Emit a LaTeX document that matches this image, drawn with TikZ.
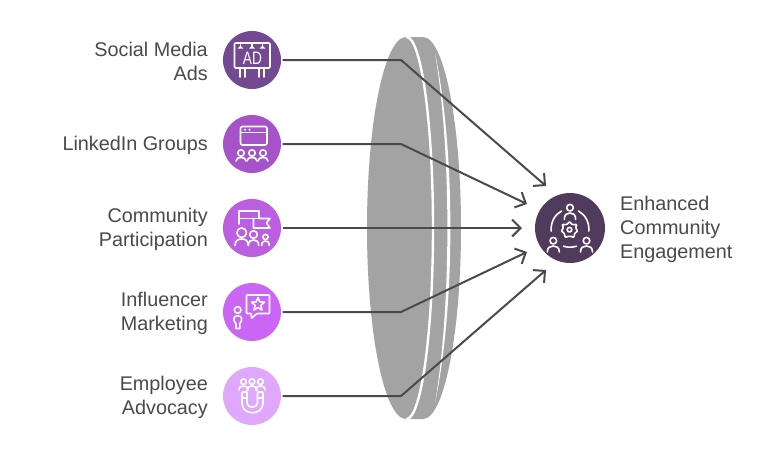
\documentclass[tikz,border=0pt]{standalone}
\usepackage{fontspec}
\setmainfont{Liberation Sans}
\usetikzlibrary{arrows.meta}
\definecolor{inkc}{HTML}{4A4A4A}
\definecolor{lensc}{HTML}{A3A3A3}
\definecolor{ca}{HTML}{734A92}
\definecolor{cb}{HTML}{A653C9}
\definecolor{cc}{HTML}{BC5EE0}
\definecolor{cd}{HTML}{C966F5}
\definecolor{ce}{HTML}{E0A8FC}
\definecolor{ct}{HTML}{503B5C}
\tikzset{
  x=1pt,y=-1pt,
  disc/.style={circle,draw=none,minimum size=58pt,inner sep=0pt,outer sep=1.5pt},
  lbl/.style={text=inkc,font=\fontsize{19.8}{24}\selectfont,inner sep=0pt,anchor=east,align=right},
  lblr/.style={text=inkc,font=\fontsize{19.8}{24}\selectfont,inner sep=0pt,anchor=west,align=left},
  conn/.style={draw=inkc,line width=2pt,miter limit=4},
  arr/.style={conn,-{Straight Barb[length=8.5pt,width=17pt,line width=2pt]}},
  ico/.style={draw=white,line width=1.6pt,line cap=round,line join=round}
}
% head and shoulders: x, head y, head radius, half width, body top, body bottom
\newcommand{\iconperson}[6]{%
  \draw[ico] (#1,#2) circle[radius=#3];
  \draw[ico] ({#1-#4},#6) .. controls ({#1-#4},{#6-0.8*(#6-#5)}) and ({#1-0.5*#4},#5) .. (#1,#5)
     .. controls ({#1+0.5*#4},#5) and ({#1+#4},{#6-0.8*(#6-#5)}) .. ({#1+#4},#6);
}
\begin{document}
\begin{tikzpicture}
\useasboundingbox (0,0) rectangle (764,451);
\fill[white] (0,0) rectangle (764,451);

% lens
\fill[lensc] (406,37) arc[start angle=-90,end angle=-270,x radius=39,y radius=191]
   -- (423,419) arc[start angle=90,end angle=-90,x radius=38,y radius=191] -- cycle;
\draw[white,line width=2.4pt] (406.5,37) arc[start angle=-90,end angle=90,x radius=26.5,y radius=191];
\fill[white] (435,53) .. controls (455.5,150) and (455.5,306) .. (435,403)
   .. controls (451.5,306) and (451.5,150) .. (435,53) -- cycle;

% nodes
\node[disc,fill=ca] (c1) at (252,60) {};
\node[disc,fill=cb] (c2) at (252,144) {};
\node[disc,fill=cc] (c3) at (252,228) {};
\node[disc,fill=cd] (c4) at (252,312) {};
\node[disc,fill=ce] (c5) at (252,396) {};
\node[disc,fill=ct,minimum size=70pt] (target) at (570,228) {};

\node[lbl] (l1) at (208,61.5) {Social Media\\Ads};
\node[lbl] (l2) at (208,145.5) {LinkedIn Groups};
\node[lbl] (l3) at (208,229.5) {Community\\Participation};
\node[lbl] (l4) at (208,313.5) {Influencer\\Marketing};
\node[lbl] (l5) at (208,397.5) {Employee\\Advocacy};
\node[lblr] (lt) at (620,229.5) {Enhanced\\Community\\Engagement};

% connectors
\coordinate (b1) at (401,60);
\coordinate (b2) at (401,144);
\coordinate (b4) at (401,312);
\coordinate (b5) at (401,396);
\coordinate (t1) at (546,186);
\coordinate (t2) at (527,204);
\coordinate (t3) at (522,228);
\coordinate (t4) at (527,252);
\coordinate (t5) at (546,270);
\draw[arr] (c1.east) -- (b1) -- (t1);
\draw[arr] (c2.east) -- (b2) -- (t2);
\draw[arr] (c3.east) -- (t3);
\draw[arr] (c4.east) -- (b4) -- (t4);
\draw[arr] (c5.east) -- (b5) -- (t5);

% icon 1: billboard
\draw[ico,rounded corners=1pt] (234.5,43) rectangle (270,68);
\foreach \lx in {240.5,252,262.5}{
  \draw[ico] (\lx,43) -- (\lx,46.5);
  \fill[white] ({\lx-3},48.5) -- (\lx,45.5) -- ({\lx+3},48.5) -- cycle;
}
\draw[ico] (240,68) -- (240,77) (245,68) -- (245,77) (259,68) -- (259,77) (264,68) -- (264,77);
\node[text=white,font=\fontsize{18}{18}\selectfont,inner sep=0pt,xscale=0.76] (adtxt) at (252.5,58.5) {AD};

% icon 2: window and three people
\draw[ico,rounded corners=2pt] (240.5,126.5) rectangle (267,145);
\draw[ico] (240.5,132.5) -- (267,132.5);
\fill[white] (245,129.8) circle[radius=1.1] (249.5,129.8) circle[radius=1.1];
\iconperson{241}{153}{3.2}{5}{157.5}{161}
\iconperson{252}{153}{3.2}{5}{157.5}{161}
\iconperson{263}{153}{3.2}{5}{157.5}{161}

% icon 3: flag and three people
\draw[ico] (239,224) -- (239,211) -- (259,211) -- (259,218.5) -- (239,218.5);
\draw[ico] (259,218.5) -- (270,218.5) -- (266.5,223) -- (270,228) -- (253.5,228) -- (253.5,218.5);
\iconperson{241.7}{232.7}{4.8}{6.7}{239}{245.5}
\iconperson{253.5}{234.5}{3.8}{5.2}{240}{245.5}
\iconperson{265.5}{237}{2.6}{3.8}{241}{245.5}

% icon 4: speech bubble, star, person
\draw[ico,rounded corners=0.8pt] (246.5,295) -- (269.5,295) -- (269.5,313.5) -- (257,313.5) -- (251.3,318.5) -- (251.3,313.5) -- (246.5,313.5) -- cycle;
\draw[ico] (258,297.5) -- (259.8,301.8) -- (264.5,302.2) -- (260.9,305.3) -- (262,310) -- (258,307.5) -- (254,310) -- (255.1,305.3) -- (251.5,302.2) -- (256.2,301.8) -- cycle;
\draw[ico] (237.7,310) circle[radius=3.3];
\draw[ico] (236,328.5) -- (236,323.5) .. controls (234,322) and (233.5,320) .. (234,318)
   .. controls (234.5,315) and (241,315) .. (241.5,318)
   .. controls (242,320) and (241.5,322) .. (239.8,323.5) -- (239.8,328.5) -- cycle;

% icon 5: magnet and three people
\iconperson{243.5}{381.7}{2.8}{4.5}{386}{390}
\iconperson{260.5}{381.7}{2.8}{4.5}{386}{390}
\iconperson{252}{381.7}{2.8}{5}{386}{391}
\draw[ico,rounded corners=1pt] (242,392) -- (247,392) -- (247,402) .. controls (247,408.5) and (257.5,408.5) .. (257.5,402)
   -- (257.5,392) -- (263,392) -- (263,402) .. controls (263,416) and (242,416) .. (242,402) -- cycle;
\draw[ico] (242,398) -- (247,398) (257.5,398) -- (263,398);

% target icon
\iconperson{570}{207.7}{3.3}{5.7}{213}{219.5}
\iconperson{553.3}{240.7}{3.3}{6}{246}{252}
\iconperson{586.5}{240.7}{3.3}{6}{246}{252}
\draw[ico] (551.2,231) .. controls (550.5,222) and (555,214.5) .. (561.5,211);
\draw[ico] (588.8,231) .. controls (589.5,222) and (585,214.5) .. (578.5,211);
\draw[ico] (563.5,246.2) .. controls (567.5,247.5) and (572.5,247.5) .. (576.5,246.2);
\draw[ico,rounded corners=1pt] (569.5,221.5) -- (572.3,224.8) -- (577,224.3) -- (575.5,228) -- (577.8,231) -- (574.5,233.5) -- (574,237.5) -- (569.5,236) -- (565,237.5) -- (564.5,233.5) -- (561.2,231) -- (563.5,228) -- (562,224.3) -- (566.7,224.8) -- cycle;
\draw[ico] (569.5,229.7) circle[radius=2.3];
\end{tikzpicture}
\end{document}
